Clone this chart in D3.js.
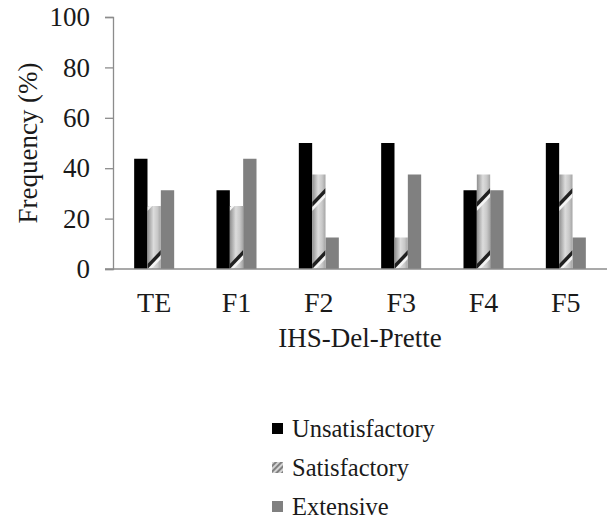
<!DOCTYPE html>
<html>
<head>
<meta charset="utf-8">
<script src="https://cdn.jsdelivr.net/npm/d3@7"></script>
<style>
  html, body { margin: 0; padding: 0; background: #fff; }
  svg { display: block; }
</style>
</head>
<body>
<svg id="chart" width="611" height="522"></svg>
<script>
// ---- data ----
const categories = ["TE", "F1", "F2", "F3", "F4", "F5"];
const seriesNames = ["Unsatisfactory", "Satisfactory", "Extensive"];
const unsatisfactory = [43.75, 31.25, 50, 50, 31.25, 50];
const satisfactory   = [25, 25, 37.5, 12.5, 37.5, 37.5];
const extensive      = [31.25, 43.75, 12.5, 37.5, 31.25, 12.5];
const yTicks = [0, 20, 40, 60, 80, 100];
const yTitle = "Frequency (%)";
const xTitle = "IHS-Del-Prette";

(function () {
const FONT = "'Liberation Serif', 'Times New Roman', Tinos, 'DejaVu Serif', serif";
const seriesValues = [unsatisfactory, satisfactory, extensive];
const rows = categories.map((c, i) => ({
  cat: c,
  vals: seriesNames.map((s, j) => ({ key: s, value: seriesValues[j][i] }))
}));

const svg = d3.select("#chart");
const mLeft = 113, mRight = 607, mTop = 17, mBottom = 269;

const y = d3.scaleLinear().domain([0, 100]).range([mBottom, mTop]);
const x0 = d3.scaleBand().domain(categories).range([mLeft, mRight])
  .paddingInner(0.514).paddingOuter(0.257);
const x1 = d3.scaleBand().domain(seriesNames).range([0, x0.bandwidth()]);
const bw = x1.bandwidth();

const defs = svg.append("defs");
const g = defs.append("linearGradient").attr("id", "metal")
  .attr("x1", "0%").attr("y1", "0%").attr("x2", "100%").attr("y2", "0%");
g.append("stop").attr("offset", "0%").attr("stop-color", "#8e8e8e");
g.append("stop").attr("offset", "45%").attr("stop-color", "#dcdcdc");
g.append("stop").attr("offset", "75%").attr("stop-color", "#c8c8c8");
g.append("stop").attr("offset", "100%").attr("stop-color", "#a4a4a4");

const period = 62;

const lp = defs.append("pattern").attr("id", "legPat")
  .attr("patternUnits", "userSpaceOnUse")
  .attr("width", 4).attr("height", 4)
  .attr("patternTransform", "rotate(45)");
lp.append("rect").attr("width", 4).attr("height", 4).attr("fill", "#d4d4d4");
lp.append("rect").attr("width", 2).attr("height", 4).attr("fill", "#808080");

const colors = { "Unsatisfactory": "#000000", "Extensive": "#808080" };
const legendFills = { "Unsatisfactory": "#000000", "Satisfactory": "url(#legPat)", "Extensive": "#808080" };

const groups = svg.append("g").selectAll("g").data(rows).join("g")
  .attr("transform", d => `translate(${x0(d.cat)},0)`);

groups.selectAll("rect.plain").data(d => d.vals.filter(v => v.key !== "Satisfactory")).join("rect")
  .attr("class", "plain")
  .attr("x", d => x1(d.key))
  .attr("y", d => y(d.value))
  .attr("width", bw)
  .attr("height", d => y(0) - y(d.value))
  .attr("fill", d => colors[d.key]);

// Satisfactory bars: metallic gradient + diagonal streaks clipped to the bar
const sat = groups.selectAll("g.sat").data((d, i) => d.vals.filter(v => v.key === "Satisfactory").map(v => ({ ...v, idx: i }))).join("g")
  .attr("class", "sat");
sat.each(function (d) {
  const gx = d3.select(this);
  const bx = x1(d.key), by = y(d.value), bh = y(0) - y(d.value);
  const cid = "clipSat" + d.idx;
  gx.append("clipPath").attr("id", cid).append("rect")
    .attr("x", bx).attr("y", by).attr("width", bw).attr("height", bh);
  gx.append("rect").attr("x", bx).attr("y", by).attr("width", bw).attr("height", bh)
    .attr("fill", "url(#metal)");
  const sg = gx.append("g").attr("clip-path", `url(#${cid})`);
  for (let base = y(0); base > by - period; base -= period) {
    sg.append("path")
      .attr("d", `M${bx},${base - 1} L${bx + bw},${base - 15} L${bx + bw},${base - 10} L${bx},${base + 4} Z`)
      .attr("fill", "#f4f4f4");
    sg.append("path")
      .attr("d", `M${bx},${base - 5} L${bx + bw},${base - 19} L${bx + bw},${base - 14} L${bx},${base} Z`)
      .attr("fill", "#202020");
  }
});

const yAxis = d3.axisLeft(y).tickValues(yTicks).tickSize(8).tickPadding(15).tickFormat(d3.format("d"));
const ya = svg.append("g").attr("transform", `translate(${mLeft},0)`).call(yAxis)
  .attr("font-family", null).style("font-family", FONT);
ya.select(".domain").attr("stroke", "#8c8c8c").attr("stroke-width", 1.3);
ya.selectAll(".tick line").attr("stroke", "#8c8c8c").attr("stroke-width", 1.3);
ya.selectAll(".tick text").attr("font-size", 27).style("font-family", FONT).attr("fill", "#1a1a1a");

const xAxis = d3.axisBottom(x0).tickSize(0).tickPadding(23);
const xa = svg.append("g").attr("transform", `translate(0,${mBottom})`).call(xAxis)
  .attr("font-family", null).style("font-family", FONT);
xa.select(".domain").remove();
xa.append("line").attr("x1", mLeft - 8).attr("x2", mRight).attr("y1", 0).attr("y2", 0)
  .attr("stroke", "#8c8c8c").attr("stroke-width", 1.3);
xa.selectAll(".tick text").attr("font-size", 28).style("font-family", FONT).attr("fill", "#1a1a1a");

svg.append("text").attr("x", (mLeft + mRight) / 2).attr("y", 347)
  .attr("text-anchor", "middle").attr("font-size", 27).style("font-family", FONT).attr("fill", "#1a1a1a").text(xTitle);
svg.append("text").attr("transform", `translate(37,${(mTop + mBottom) / 2}) rotate(-90)`)
  .attr("text-anchor", "middle").attr("font-size", 27).style("font-family", FONT).attr("fill", "#1a1a1a").text(yTitle);

const leg = svg.append("g").selectAll("g").data(seriesNames).join("g")
  .attr("transform", (d, i) => `translate(272,${437 + i * 39})`);
leg.append("rect").attr("x", 0).attr("y", -14).attr("width", 11).attr("height", 11)
  .attr("fill", d => legendFills[d]);
leg.append("text").attr("x", 20).attr("y", 0).attr("font-size", 24.5).style("font-family", FONT)
  .attr("fill", "#1a1a1a").text(d => d);
})();
</script>
</body>
</html>
